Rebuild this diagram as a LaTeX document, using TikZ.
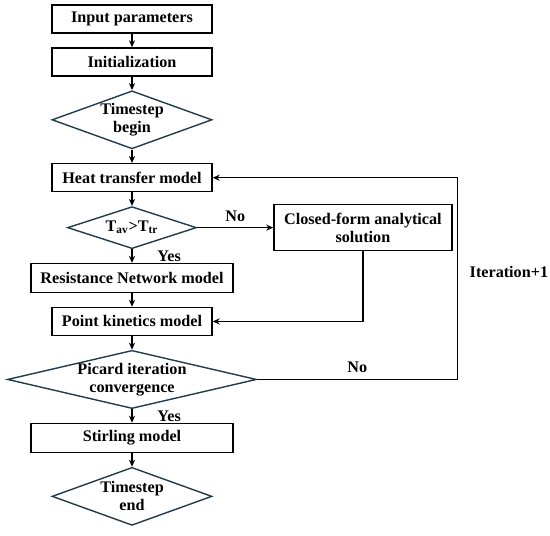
\documentclass[tikz,border=0pt]{standalone}
\usepackage{fontspec}
\setmainfont{Liberation Serif}
\usepackage{xcolor}
\usepackage{tikz}
\usetikzlibrary{shapes.geometric, arrows.meta, positioning}
\definecolor{diamondline}{RGB}{35,60,75}
\tikzset{
  block/.style={
    rectangle, minimum width=3.2cm, minimum height=0.56cm, inner sep=1pt,
    align=center, draw=black, line width=0.8pt,
    font=\fontsize{9.2}{10.2}\selectfont\bfseries
  },
  wideblock/.style={block, minimum width=4.04cm, minimum height=0.58cm},
  decision/.style={
    diamond, inner sep=0pt, align=center, draw=diamondline, line width=0.8pt,
    font=\fontsize{9.2}{10.2}\selectfont\bfseries
  },
  arrow/.style={-{Stealth[length=4pt,width=3.5pt]}, line width=0.7pt, color=black},
  lbl/.style={font=\fontsize{9.2}{10.2}\selectfont\bfseries}
}
\begin{document}
\begin{tikzpicture}[node distance=0.27cm]
  \useasboundingbox (0,0) rectangle (11,-10.7);
  \node[block] (input) at (2.64,-0.38) {Input parameters};
  \node[block, below=of input] (init) {Initialization};
  \node[decision, aspect=2.76, minimum width=3.2cm, minimum height=1.16cm, below=of init] (begin)
    {Timestep\\begin};
  \node[block, below=of begin] (heat) {Heat transfer model};
  \node[decision, aspect=3.07, minimum width=2.58cm, minimum height=0.84cm, below=of heat] (check)
    {T\textsubscript{av}>T\textsubscript{tr}};
  \node[block, minimum width=3.56cm, minimum height=0.92cm, right=1.52cm of check] (closed)
    {Closed-form analytical\\solution};
  \node[wideblock, below=of check] (resist) {Resistance Network model};
  \node[block, below=of resist] (point) {Point kinetics model};
  \node[decision, aspect=4.28, minimum width=4.96cm, minimum height=1.16cm, below=of point] (picard)
    {Picard iteration\\convergence};
  \node[wideblock, below=of picard] (stirling) {Stirling model};
  \node[decision, aspect=2.76, minimum width=3.2cm, minimum height=1.16cm, below=of stirling] (end)
    {Timestep\\end};

  \draw[arrow] (input) -- (init);
  \draw[arrow] (init) -- (begin);
  \draw[arrow] (begin) -- (heat);
  \draw[arrow] (heat) -- (check);
  \draw[arrow] (check) -- (closed) node[midway,above,lbl]{No};
  \draw[arrow] (check) -- (resist) node[midway,right=0.38cm,lbl]{Yes};
  \draw[arrow] (resist) -- (point);
  \draw[arrow] (closed.south) |- (point.east);
  \draw[arrow] (point) -- (picard);
  \draw[arrow] (picard) -- (stirling) node[midway,right=0.38cm,lbl]{Yes};
  \draw[arrow] (stirling) -- (end);
  \draw[arrow] (picard.east) -- node[above,lbl]{No} ++(4,0) |- (heat.east)
    node[pos=0.267,right=0.12cm,lbl]{Iteration+1};
\end{tikzpicture}
\end{document}
